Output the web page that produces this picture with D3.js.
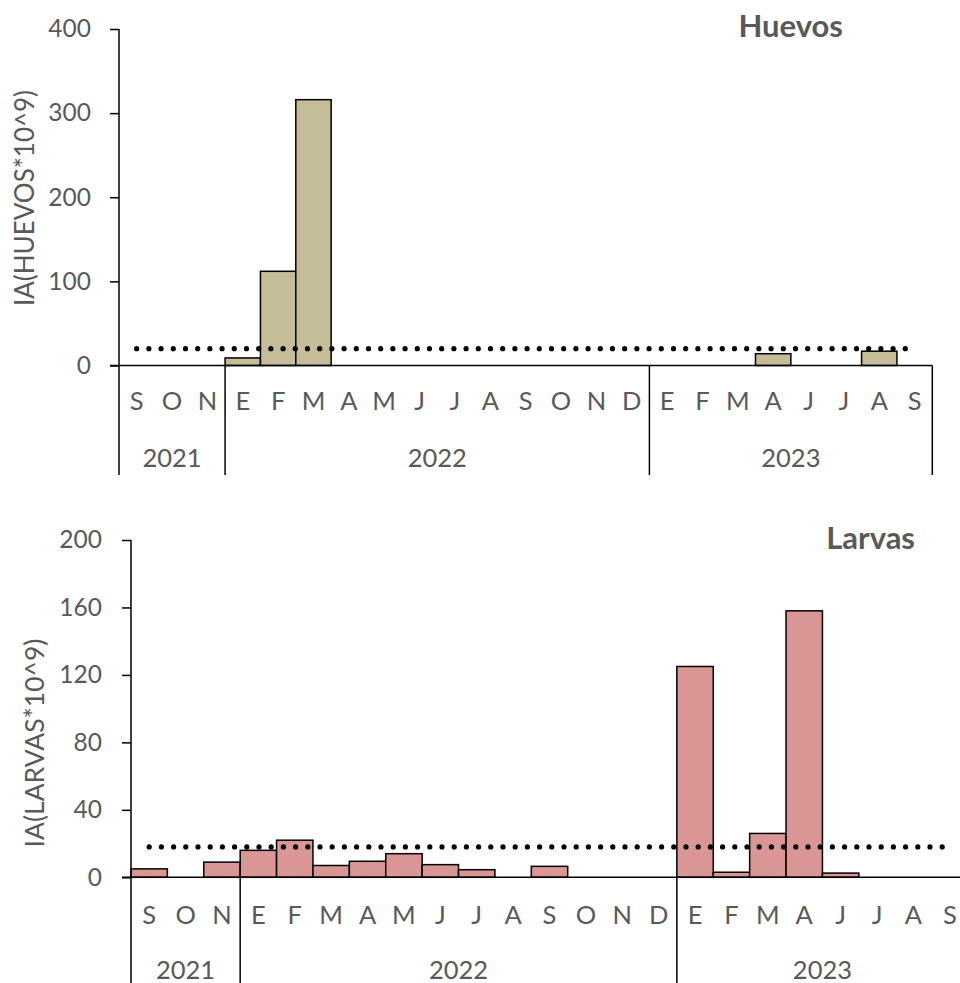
<!DOCTYPE html>
<html>
<head>
<meta charset="utf-8">
<script src="https://cdn.jsdelivr.net/npm/d3@7"></script>
<style>
  html, body { margin: 0; padding: 0; background: #fff; }
  svg { display: block; }
  text { font-family: Lato, "Open Sans", sans-serif; fill: #595959; }
</style>
</head>
<body>
<svg id="chart" width="960" height="983"></svg>
<script>
// Month initials (Spanish) from Sep 2021 to Sep 2023, as labelled on the axis
const months = ["S","O","N","E","F","M","A","M","J","J","A","S","O","N","D","E","F","M","A","J","J","A","S"];
// Year groups and how many months each spans
const yearLabels = ["2021","2022","2023"];
const yearSpans = [3, 12, 8];
// Abundance index (x10^9) per month
const huevos = [0,0,0, 9,112,316,0,0,0,0,0,0,0,0,0, 0,0,0,14,0,0,17,0];
const larvas = [5,0,9, 16,22,7,9.5,14,7.5,4.5,0,6.5,0,0,0, 125,3,26,158,2.5,0,0,0];
// Reference level drawn as a dotted line
const huevosRef = 20;
const larvasRef = 18;
// Y axis ticks
const huevosTicks = [0,100,200,300,400];
const larvasTicks = [0,40,80,120,160,200];

const svg = d3.select("#chart");

function panel(cfg) {
  const g = svg.append("g");
  const idx = months.map((m, i) => i);
  const x = d3.scaleBand().domain(idx).range([cfg.left, cfg.right]).padding(0);
  const y = d3.scaleLinear().domain([0, cfg.max]).range([cfg.y0, cfg.yTop]);

  // bars
  g.append("g").selectAll("rect")
    .data(cfg.values.map((v, i) => ({ v, i })).filter(d => d.v > 0))
    .join("rect")
    .attr("x", d => x(d.i))
    .attr("width", x.bandwidth())
    .attr("y", d => y(d.v))
    .attr("height", d => y(0) - y(d.v))
    .attr("fill", cfg.fill)
    .attr("stroke", "#000")
    .attr("stroke-width", 1.5);

  // y axis
  const ya = g.append("g")
    .attr("transform", `translate(${cfg.left},0)`)
    .call(d3.axisLeft(y).tickValues(cfg.ticks).tickSize(9).tickPadding(cfg.tickPad).tickSizeOuter(0));
  ya.select(".domain").remove();
  ya.selectAll(".tick line").attr("stroke", "#000").attr("stroke-width", 1.5);
  ya.selectAll(".tick text").attr("font-size", 24.5).attr("fill", "#595959")
    .style("font-family", "Lato, sans-serif");

  // axis lines
  g.append("line").attr("x1", cfg.left).attr("x2", cfg.left)
    .attr("y1", cfg.yTop).attr("y2", cfg.lineBottom)
    .attr("stroke", "#000").attr("stroke-width", 1.5);
  g.append("line").attr("x1", cfg.left - 9).attr("x2", cfg.right)
    .attr("y1", y(0)).attr("y2", y(0))
    .attr("stroke", "#000").attr("stroke-width", 1.5);

  // year separators and labels
  let start = 0;
  yearSpans.forEach((n, k) => {
    const end = start + n;
    const xs = x(start);
    const xe = end < months.length ? x(end) : cfg.right;
    g.append("line").attr("x1", xe).attr("x2", xe)
      .attr("y1", y(0)).attr("y2", cfg.lineBottom)
      .attr("stroke", "#000").attr("stroke-width", 1.5);
    g.append("text").attr("x", (xs + xe) / 2).attr("y", cfg.yearBase)
      .attr("text-anchor", "middle").attr("font-size", 25.5)
      .text(yearLabels[k]);
    start = end;
  });

  // month labels
  g.append("g").selectAll("text").data(months).join("text")
    .attr("x", (d, i) => x(i) + x.bandwidth() / 2)
    .attr("y", cfg.monthBase)
    .attr("text-anchor", "middle").attr("font-size", 25.5)
    .text(d => d);

  // dotted reference line
  g.append("line")
    .attr("x1", x(0) + x.bandwidth() / 2)
    .attr("x2", x(months.length - 1) + x.bandwidth() / 2)
    .attr("y1", y(cfg.ref)).attr("y2", y(cfg.ref))
    .attr("stroke", "#000").attr("stroke-width", 5.2)
    .attr("stroke-linecap", "round")
    .attr("stroke-dasharray", "0 12.2");

  // title
  g.append("text").attr("x", cfg.titleX).attr("y", cfg.titleY)
    .attr("text-anchor", "end").attr("font-size", 31).attr("font-weight", "bold")
    .text(cfg.title);

  // y axis title
  g.append("text")
    .attr("transform", `translate(${cfg.yTitleX},${cfg.yTitleY}) rotate(-90)`)
    .attr("text-anchor", "middle").attr("font-size", cfg.yTitleSize)
    .text(cfg.yTitle);
}

panel({
  values: huevos, max: 400, ticks: huevosTicks, ref: huevosRef,
  left: 119, right: 932.3, yTop: 29, y0: 365.5, lineBottom: 475,
  monthBase: 410, yearBase: 467, tickPad: 19,
  fill: "#C4BD97", title: "Huevos", titleX: 843, titleY: 37,
  yTitle: "IA(HUEVOS*10^9)", yTitleX: 34, yTitleY: 198, yTitleSize: 26
});

panel({
  values: larvas, max: 200, ticks: larvasTicks, ref: larvasRef,
  left: 131, right: 968, yTop: 540, y0: 877.3, lineBottom: 990,
  monthBase: 924, yearBase: 979, tickPad: 20,
  fill: "#D99694", title: "Larvas", titleX: 915, titleY: 549,
  yTitle: "IA(LARVAS*10^9)", yTitleX: 44, yTitleY: 743, yTitleSize: 26.5
});
</script>
</body>
</html>
